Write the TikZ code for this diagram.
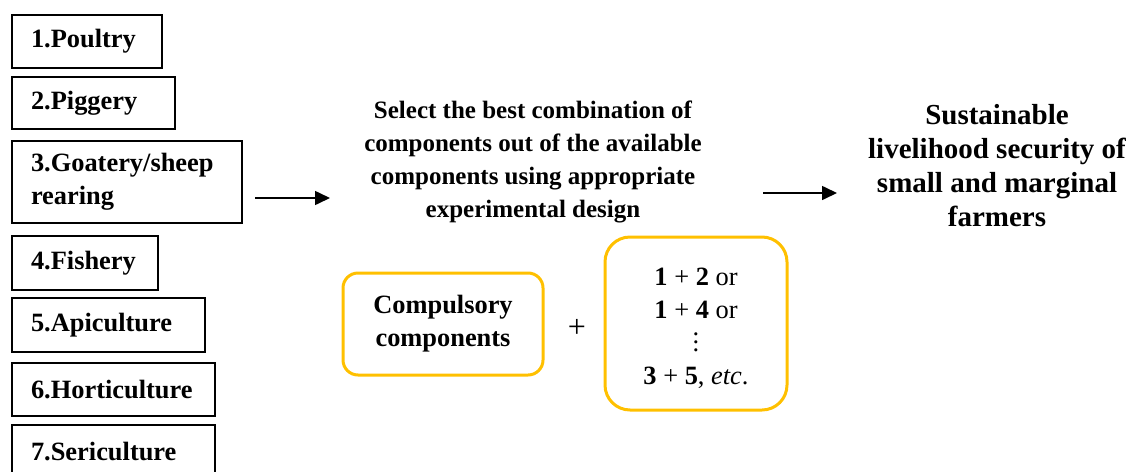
\documentclass[tikz,border=0pt]{standalone}
\usepackage{fontspec}
\setmainfont{Liberation Serif}
\usetikzlibrary{arrows.meta, positioning}
\definecolor{choicegold}{HTML}{FFC000}

\begin{document}
\begin{tikzpicture}[
    x=0.5pt, y=-0.5pt,
    comp/.style={rectangle, draw=black, line width=1pt, anchor=north west, text width=#1, align=left, inner xsep=9.5pt, minimum height=26.5pt, font=\fontsize{13.2}{16.5}\selectfont\bfseries},
    midtext/.style={align=center, font=\fontsize{12.5}{16.5}\selectfont\bfseries},
    goaltext/.style={align=center, font=\fontsize{14.5}{17}\selectfont\bfseries},
    choice/.style={rectangle, draw=choicegold, line width=1.5pt, align=center, font=\fontsize{13.2}{16.5}\selectfont},
    arrow/.style={-{Triangle[length=7.5pt, width=7pt]}, line width=0.8pt, black}
]
\clip (0,0) rectangle (1138,471);

% Components
\node[comp=56pt] (poultry) at (11,14) {1.Poultry};
\node[comp=62.5pt, minimum height=26pt] (piggery) at (11,76) {2.Piggery};
\node[comp=96pt, minimum height=41pt] (goatery) at (11,140) {3.Goatery/sheep\\rearing};
\node[comp=54pt, minimum height=27pt] (fishery) at (11,235) {4.Fishery};
\node[comp=77.5pt, minimum height=27pt] (apiculture) at (11,297) {5.Apiculture};
\node[comp=82.5pt] (horticulture) at (11,362) {6.Horticulture};
\node[comp=82.5pt] (sericulture) at (11,424) {7.Sericulture};

% Selection and goal
\node[midtext] (select) at (533,162) {Select the best combination of\\components out of the available\\components using appropriate\\experimental design};
\node[goaltext] (goal) at (997,166) {Sustainable\\livelihood security of\\small and marginal\\farmers};

% Combinations
\node[choice, minimum width=100pt, minimum height=51pt, rounded corners=7.5pt, font=\fontsize{13.2}{16.5}\selectfont\bfseries] (compulsory) at (443,324) {Compulsory\\components};
\node[font=\fontsize{16}{16}\selectfont] (plus) at (577,328) {+};
\node[choice, minimum width=91pt, minimum height=86.5pt, rounded corners=12.5pt] (combos) at (696,323.5) {\rule{0pt}{14pt}\textbf{1} + \textbf{2} or\\\textbf{1} + \textbf{4} or\\$\vdots$\\\textbf{3} + \textbf{5}, \textit{etc}.};

% Edges
\coordinate (in_start) at (255,198);
\coordinate (in_end) at (330,198);
\coordinate (out_start) at (763,193);
\coordinate (out_end) at (837,193);
\draw[arrow] (in_start) -- (in_end);
\draw[arrow] (out_start) -- (out_end);
\end{tikzpicture}
\end{document}
